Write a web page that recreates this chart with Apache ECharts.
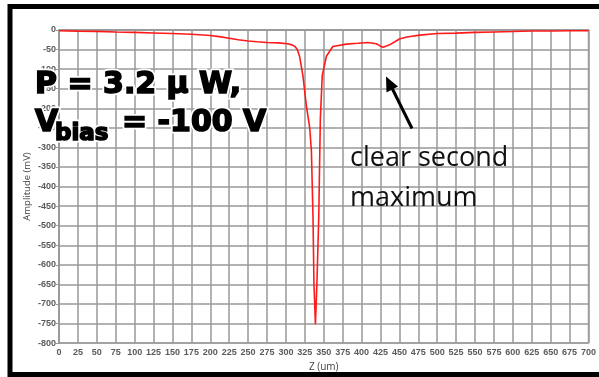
<!DOCTYPE html>
<html>
<head>
<meta charset="utf-8">
<script src="https://cdn.jsdelivr.net/npm/echarts@6/dist/echarts.min.js"></script>
<style>
html,body{margin:0;padding:0;background:#fff;}
#c{width:599px;height:377px;}
</style>
</head>
<body>
<div id="c"></div>
<script>
const zVals = [0,25,50,75,100,125,150,175,200,212,225,237,250,262,275,290,302,308,312,315,318,322.5,327,331.5,333.7,335.8,337,339,341,343.4,345.5,348,353.5,362,380,395,408,419.5,424,428.5,437,444,450,460,477,500,525,550,575,600,625,650,675,700];
const ampVals = [-2,-3,-3.5,-5,-6,-7.5,-9,-11,-14,-17,-21,-25,-28,-30,-32,-33,-35,-38,-42,-50,-67,-117,-193,-251,-310,-478,-646,-752,-646,-478,-226,-117,-67,-42,-36,-34,-32,-35,-40,-44,-38,-30,-23,-18,-13,-9,-8,-6,-5,-4,-2.5,-2.5,-2,-2];
const xAxisName = 'Z (um)';
const yAxisName = 'Amplitude (mV)';
const xRange = [0, 700, 25];
const yRange = [-800, 0, 50];

const chart = echarts.init(document.getElementById('c'), null, {renderer:'canvas'});
const data = zVals.map((z,i)=>[z, ampVals[i]]);
const labelStyle = {color:'#5a5a5a', fontSize:9, fontWeight:'bold', fontFamily:'Liberation Sans'};
const gridLine = {show:true, lineStyle:{color:'#999', width:1.5}};
const boldFont = 'bold 30px "DejaVu Sans"';
const subFont = 'bold 23px "DejaVu Sans"';
function bigText(txt, x, y, font){
  return [
    {type:'text', x:x, y:y, style:{text:txt, font:font, fill:'#fff', stroke:'#fff', lineWidth:5, verticalAlign:'middle', align:'left'}, z:100},
    {type:'text', x:x, y:y, style:{text:txt, font:font, fill:'#000', stroke:'#000', lineWidth:1.6, verticalAlign:'middle', align:'left'}, z:101}
  ];
}
chart.setOption({
  animation:false,
  backgroundColor:'#fff',
  grid:{left:59, right:10, top:30, bottom:29, show:true, borderColor:'#aaa', borderWidth:1.5},
  xAxis:{type:'value', min:xRange[0], max:xRange[1], interval:xRange[2],
    name:xAxisName, nameLocation:'middle', nameGap:17,
    nameTextStyle:{color:'#444', fontSize:10, fontFamily:'Open Sans'},
    axisLine:{show:true, lineStyle:{color:'#999', width:1.5}},
    axisTick:{show:false},
    axisLabel:Object.assign({margin:5}, labelStyle),
    splitLine:gridLine},
  yAxis:{type:'value', min:yRange[0], max:yRange[1], interval:yRange[2],
    name:yAxisName, nameLocation:'middle', nameGap:27, nameMoveOverlap:false,
    nameTextStyle:{color:'#444', fontSize:9.5, fontFamily:'Open Sans'},
    axisLine:{show:true, lineStyle:{color:'#999', width:1.5}},
    axisTick:{show:true, length:3, lineStyle:{color:'#999', width:1}},
    axisLabel:Object.assign({margin:3}, labelStyle),
    splitLine:gridLine},
  series:[{type:'line', data:data, symbol:'none', smooth:false,
    lineStyle:{color:'#ff1a1a', width:1.6}}],
  graphic:[
    {type:'rect', shape:{x:10, y:6.5, width:620, height:368}, style:{fill:'none', stroke:'#000', lineWidth:5}, z:100},
    ...bigText('P = 3.2 μ W,', 35, 85, boldFont),
    ...bigText('V', 35, 123.5, boldFont),
    ...bigText('bias', 55, 134.5, subFont),
    ...bigText('= -100 V', 122, 123.5, boldFont),
    {type:'text', x:350, y:158, style:{text:'clear second', font:'27px "Open Sans"', fill:'#111', verticalAlign:'middle', align:'left'}, z:100},
    {type:'text', x:350, y:198, style:{text:'maximum', font:'27px "Open Sans"', fill:'#111', verticalAlign:'middle', align:'left'}, z:100},
    {type:'line', shape:{x1:412, y1:128.5, x2:391, y2:86}, style:{stroke:'#000', lineWidth:3}, z:100},
    {type:'polygon', shape:{points:[[386,76.5],[398,86.5],[386.5,92.5]]}, style:{fill:'#000'}, z:100}
  ]
});
</script>
</body>
</html>
